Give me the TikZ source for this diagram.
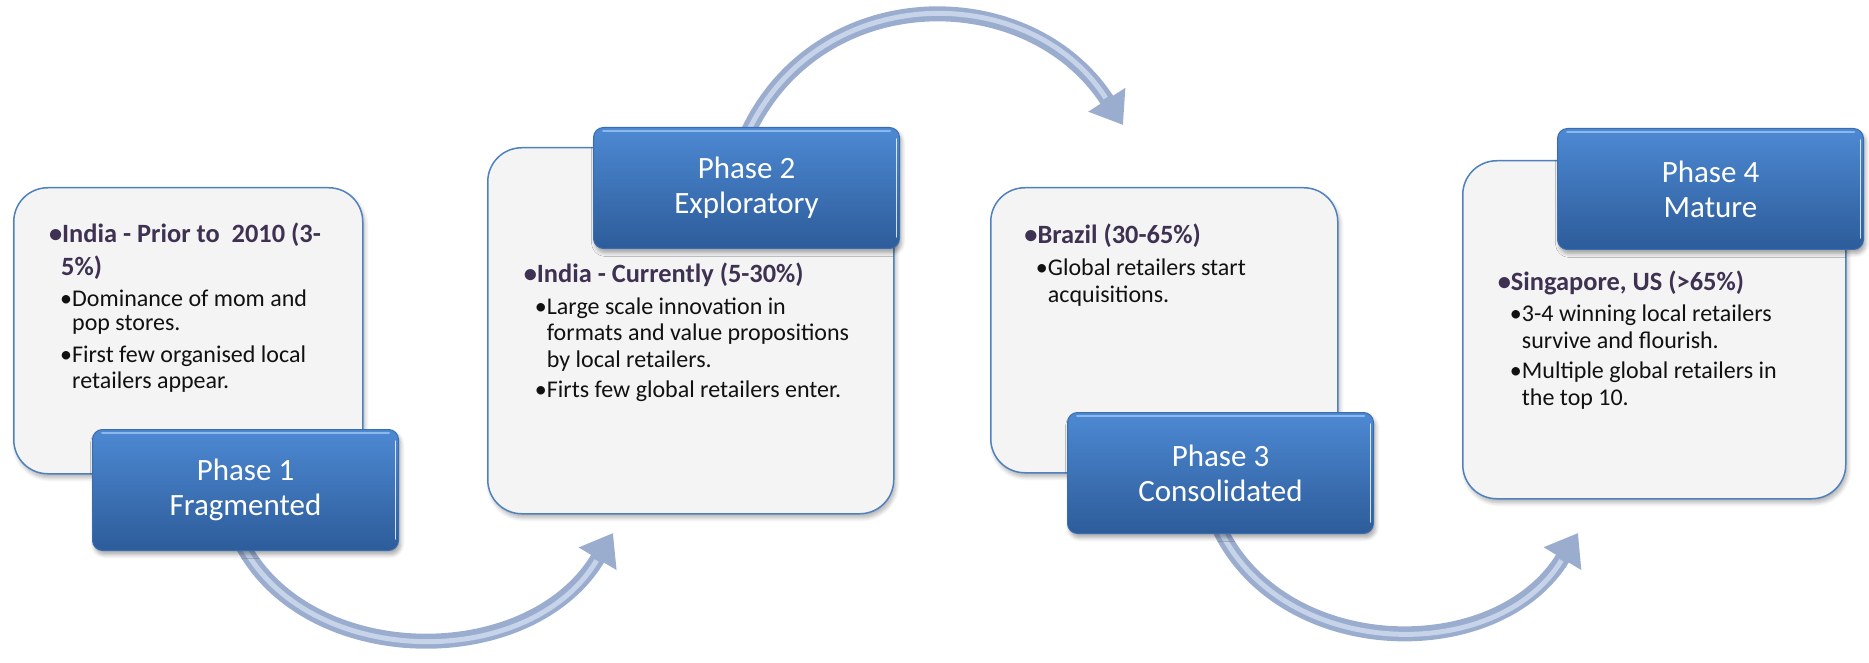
\documentclass[tikz,border=0pt]{standalone}
\usepackage{fontspec}
\setmainfont{Carlito}
\usetikzlibrary{arrows.meta,shadows.blur}

\definecolor{hdcol}{HTML}{3F3151}
\definecolor{txcol}{HTML}{111111}
\definecolor{panelfill}{HTML}{F4F4F4}
\definecolor{panelline}{HTML}{4F81BD}
\definecolor{boxtop}{HTML}{4D89D3}
\definecolor{boxbot}{HTML}{2D5C9A}
\definecolor{boxedge}{HTML}{3A6CB0}
\definecolor{boxgloss}{HTML}{8DB8EC}
\definecolor{arrdark}{HTML}{9AADCF}
\definecolor{arrlight}{HTML}{C6D3E9}

\pgfdeclarelayer{back}
\pgfsetlayers{back,main}

\tikzset{
  panel/.style={draw=panelline, line width=1.5pt, fill=panelfill,
    rounded corners=34pt, anchor=north west, inner sep=0pt,
    blur shadow={shadow xshift=2pt, shadow yshift=-4pt,
      shadow blur radius=4pt, shadow blur steps=6, shadow opacity=30}},
  phasebox/.style={rounded corners=10pt, top color=boxtop, bottom color=boxbot,
    draw=boxedge, line width=1pt, text=white, align=center,
    anchor=north west, minimum width=306pt, minimum height=121pt,
    font=\fontsize{31}{35}\selectfont,
    blur shadow={shadow xshift=2pt, shadow yshift=-4pt,
      shadow blur radius=4pt, shadow blur steps=6, shadow opacity=35}},
  hd/.style={anchor=base west, inner sep=0pt, text=hdcol,
    font=\fontsize{26.4}{30}\selectfont\bfseries},
  sb/.style={anchor=base west, inner sep=0pt, text=txcol,
    font=\fontsize{24}{26}\selectfont},
  flow/.style={line width=15pt, draw=arrdark,
    -{Triangle[width=42pt,length=30pt,fill=arrdark]}},
  flowshine/.style={line width=5pt, draw=arrlight, shorten >=32pt},
}

% glossy rim of a phase box
\newcommand\boxshine[1]{%
  \draw[boxgloss, line width=2pt, line cap=round]
    ([xshift=10pt,yshift=-4pt]#1.north west) -- ([xshift=-10pt,yshift=-4pt]#1.north east);
  \draw[white, opacity=.8, line width=1.5pt, line cap=round]
    ([xshift=-3.5pt,yshift=-12pt]#1.north east) -- ([xshift=-3.5pt,yshift=12pt]#1.south east);
}

\begin{document}
\begin{tikzpicture}[x=1pt, y=-1pt]
\useasboundingbox (0,0) rectangle (1869,663);

% text panels
\node[panel, minimum width=349pt, minimum height=286pt] (p1) at (13,187) {};
\node[panel, minimum width=406pt, minimum height=366pt] (p2) at (487,147) {};
\node[panel, minimum width=347pt, minimum height=285pt] (p3) at (990,187) {};
\node[panel, minimum width=383pt, minimum height=338pt] (p4) at (1462,160) {};

% phase titles
\node[phasebox] (b1) at (92,429)  {Phase 1\\Fragmented};
\node[phasebox] (b2) at (593,127) {Phase 2\\Exploratory};
\node[phasebox] (b3) at (1067,412) {Phase 3\\Consolidated};
\node[phasebox] (b4) at (1557,128) {Phase 4\\Mature};
\boxshine{b1}
\boxshine{b2}
\boxshine{b3}
\boxshine{b4}

% phase 1 text
\node[hd] (t1a) at (62,243)  {\llap{\textbullet}India - Prior to\ \ 2010 (3-};
\node[hd] (t1b) at (61,275)  {5\%)};
\node[sb] (t1c) at (72,306)  {\llap{\textbullet}Dominance of mom and};
\node[sb] (t1d) at (72,330.7) {pop stores.};
\node[sb] (t1e) at (72,362.7) {\llap{\textbullet}First few organised local};
\node[sb] (t1f) at (72,388.3) {retailers appear.};

% phase 2 text
\node[hd] (t2a) at (536.7,282.7) {\llap{\textbullet}India - Currently (5-30\%)};
\node[sb] (t2b) at (546.7,314)   {\llap{\textbullet}Large scale innovation in};
\node[sb] (t2c) at (546.7,340.7) {formats and value propositions};
\node[sb] (t2d) at (546.7,367.3) {by local retailers.};
\node[sb] (t2e) at (546.7,397.3) {\llap{\textbullet}Firts few global retailers enter.};

% phase 3 text
\node[hd] (t3a) at (1037.3,243.3) {\llap{\textbullet}Brazil (30-65\%)};
\node[sb] (t3b) at (1047.7,275.7) {\llap{\textbullet}Global retailers start};
\node[sb] (t3c) at (1047.7,302.3) {acquisitions.};

% phase 4 text
\node[hd] (t4a) at (1510.7,290)   {\llap{\textbullet}Singapore, US (>65\%)};
\node[sb] (t4b) at (1521.7,321.7) {\llap{\textbullet}3-4 winning local retailers};
\node[sb] (t4c) at (1521.7,348.3) {survive and flourish.};
\node[sb] (t4d) at (1521.7,378.3) {\llap{\textbullet}Multiple global retailers in};
\node[sb] (t4e) at (1521.7,405)   {the top 10.};

% curved arrows between the phases, behind the boxes
\coordinate (a1s) at (243,546);
\coordinate (a1e) at (613,533);
\coordinate (a2s) at (748,132);
\coordinate (a2e) at (1123,125);
\coordinate (a3s) at (1220,530);
\coordinate (a3e) at (1578,533);
\begin{pgfonlayer}{back}
  \draw[flow] (a1s) .. controls (310,670) and (530,672) .. (a1e);
  \draw[flowshine] (a1s) .. controls (310,670) and (530,672) .. (a1e);
  \draw[flow] (a2s) .. controls (820,-20) and (1030,-20) .. (a2e);
  \draw[flowshine] (a2s) .. controls (820,-20) and (1030,-20) .. (a2e);
  \draw[flow] (a3s) .. controls (1285,662) and (1498,665) .. (a3e);
  \draw[flowshine] (a3s) .. controls (1285,662) and (1498,665) .. (a3e);
\end{pgfonlayer}
\end{tikzpicture}
\end{document}
